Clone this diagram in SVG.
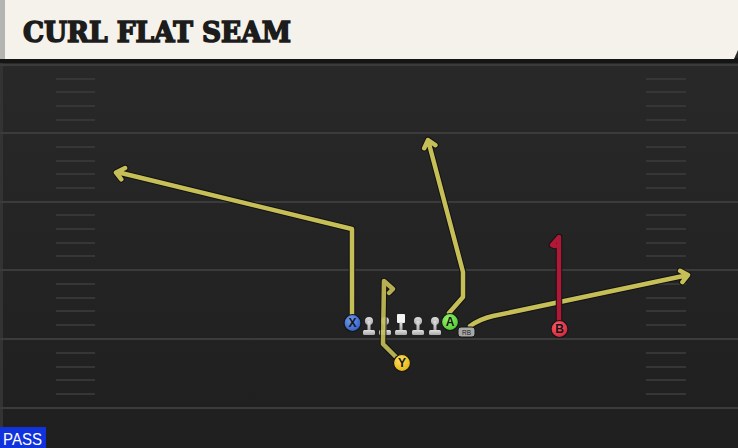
<svg xmlns="http://www.w3.org/2000/svg" width="738" height="448" viewBox="0 0 738 448">
<defs>
<linearGradient id="field" x1="0" y1="0" x2="0" y2="1">
<stop offset="0" stop-color="#2a2a2a"/>
<stop offset="1" stop-color="#1f1f1f"/>
</linearGradient>
<linearGradient id="lin" x1="0" y1="0" x2="0" y2="1">
<stop offset="0" stop-color="#e0e0e0"/>
<stop offset="1" stop-color="#a8a8a8"/>
</linearGradient>
<radialGradient id="gx" cx="0.4" cy="0.35" r="0.7"><stop offset="0" stop-color="#6f9cf0"/><stop offset="1" stop-color="#2f5cc0"/></radialGradient>
<radialGradient id="ga" cx="0.4" cy="0.35" r="0.7"><stop offset="0" stop-color="#9af070"/><stop offset="1" stop-color="#4cc82c"/></radialGradient>
<radialGradient id="gy" cx="0.4" cy="0.35" r="0.7"><stop offset="0" stop-color="#ffe060"/><stop offset="1" stop-color="#e0b010"/></radialGradient>
<radialGradient id="gb" cx="0.4" cy="0.35" r="0.7"><stop offset="0" stop-color="#ff6070"/><stop offset="1" stop-color="#d02034"/></radialGradient>
</defs>
<style>
.yard{stroke:#3b3b3b;stroke-width:2}
.hash{stroke:#363636;stroke-width:2}
.rt-o{fill:none;stroke:#121212;stroke-width:6.5;stroke-linejoin:round;stroke-linecap:round}
.rt{fill:none;stroke:#c6bf58;stroke-width:4.5;stroke-linejoin:round;stroke-linecap:round}
.rt-r{fill:none;stroke:#b01838;stroke-width:4.5;stroke-linejoin:round;stroke-linecap:round}
.lbl{font-family:"Liberation Sans",Arial,sans-serif;font-weight:bold;font-size:12px;fill:#151515;text-anchor:middle}
.ring{stroke:#151515;stroke-width:1.2}
</style>
<rect width="738" height="448" fill="url(#field)"/>
<rect x="0" y="60" width="3" height="388" fill="#333"/>
<g id="yardlines">
<line class="yard" x1="0" y1="65" x2="738" y2="65"/>
<line class="yard" x1="0" y1="133" x2="738" y2="133"/>
<line class="yard" x1="0" y1="202" x2="738" y2="202"/>
<line class="yard" x1="0" y1="270" x2="738" y2="270"/>
<line class="yard" x1="0" y1="339" x2="738" y2="339"/>
<line class="yard" x1="0" y1="408" x2="738" y2="408"/>
</g>
<g id="hashes">
<path class="hash" d="M56 79H95M56 92H95M56 106H95M56 120H95M56 147H95M56 161H95M56 174H95M56 188H95M56 215H95M56 229H95M56 243H95M56 256H95M56 284H95M56 298H95M56 311H95M56 325H95M56 353H95M56 367H95M56 380H95M56 394H95"/>
<path class="hash" d="M646 79H686M646 92H686M646 106H686M646 120H686M646 147H686M646 161H686M646 174H686M646 188H686M646 215H686M646 229H686M646 243H686M646 256H686M646 284H686M646 298H686M646 311H686M646 325H686M646 353H686M646 367H686M646 380H686M646 394H686"/>
</g>
<g id="banner">
<rect x="0" y="58" width="738" height="5" fill="#151515"/>
<path d="M0 0H738V50L734 59H0Z" fill="#f5f2eb"/>
<rect x="0" y="0" width="5" height="59" fill="#b4b4b0"/>
<text x="23" y="42" font-family="'DejaVu Serif',serif" font-weight="bold" font-size="28" fill="#1c1c1c" stroke="#1c1c1c" stroke-width="1.6" stroke-linejoin="miter" textLength="268" lengthAdjust="spacingAndGlyphs">CURL FLAT SEAM</text>
</g>
<g id="linemen" fill="url(#lin)">
<g id="lt"><circle cx="369" cy="321" r="4"/><rect x="367.5" y="321" width="3" height="10"/><rect x="363" y="330" width="12" height="5" rx="1.5"/></g>
<g id="lg"><circle cx="385" cy="321" r="4"/><rect x="383.5" y="321" width="3" height="10"/><rect x="379" y="330" width="12" height="5" rx="1.5"/></g>
<g id="c"><rect x="397" y="314" width="8" height="9" rx="1" fill="#f4f4f4"/><rect x="399.5" y="322" width="3" height="9"/><rect x="395" y="330" width="12" height="5" rx="1.5"/></g>
<g id="rg"><circle cx="418" cy="321" r="4"/><rect x="416.5" y="321" width="3" height="10"/><rect x="412" y="330" width="12" height="5" rx="1.5"/></g>
<g id="rt"><circle cx="435" cy="321" r="4"/><rect x="433.5" y="321" width="3" height="10"/><rect x="429" y="330" width="12" height="5" rx="1.5"/></g>
</g>
<g id="connectors">
<path class="rt-o" d="M352 314V229L117 172M121.3 179.3L116 172.5L125.1 168"/>
<path class="rt" d="M352 314V229L117 172M121.3 179.3L116 172.5L125.1 168"/>
<path class="rt-o" d="M449 313L463 297V272L428 140M424.2 148.2L428 140L435.4 145.2"/>
<path class="rt" d="M449 313L463 297V272L428 140M424.2 148.2L428 140L435.4 145.2"/>
<path class="rt-o" d="M470 326Q480 319 493 316L688 275M680.1 270.8L688 275L682.4 282.1"/>
<path class="rt" d="M470 326Q480 319 493 316L688 275M680.1 270.8L688 275L682.4 282.1"/>
<path class="rt-o" d="M559 320V237L552 245L555 246"/>
<path class="rt-r" d="M559 320V237L552 245L555 246"/>
<g opacity="0.9">
<path class="rt-o" d="M396 357L383 344L384 281L393 289L389 293"/>
<path class="rt" d="M396 357L383 344L384 281L393 289L389 293"/>
</g>
</g>
<g id="X"><circle class="ring" cx="352.5" cy="323" r="8.5" fill="url(#gx)"/><text class="lbl" x="352.5" y="327.3">X</text></g>
<g id="A"><circle class="ring" cx="450" cy="322" r="8.5" fill="url(#ga)"/><text class="lbl" x="450" y="326.3">A</text></g>
<g id="RB"><rect x="458" y="327" width="17" height="10" rx="3" fill="#a8a8a8" stroke="#151515" stroke-width="1"/><text x="466.5" y="334.5" font-family="'Liberation Sans',Arial,sans-serif" font-size="6.5" fill="#222" text-anchor="middle">RB</text></g>
<g id="Y"><circle class="ring" cx="402" cy="363" r="8.5" fill="url(#gy)"/><text class="lbl" x="402" y="367.3">Y</text></g>
<g id="B"><circle class="ring" cx="559.5" cy="329" r="8.5" fill="url(#gb)"/><text class="lbl" x="559.5" y="333.3">B</text></g>
<g id="pass"><rect x="0" y="427" width="46" height="21" fill="#1133dd"/><text x="3" y="444.5" font-family="'Liberation Sans',Arial,sans-serif" font-size="16" fill="#ffffff" textLength="39" lengthAdjust="spacingAndGlyphs">PASS</text></g>
</svg>
